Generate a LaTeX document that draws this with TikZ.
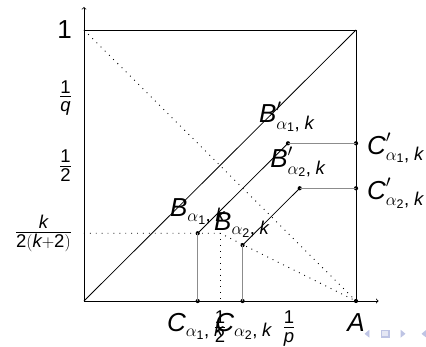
\documentclass[tikz,border=0pt]{standalone}
\usepackage{amsmath}
\usepackage{fontspec}
\setmainfont{Liberation Sans}
\DeclareMathSizes{26}{26}{18.5}{12.5}
\definecolor{navc}{RGB}{190,196,228}
\newcommand{\lab}[3]{$\textit{#1}#2_{\alpha_{\textup{#3}}\textup{,}\mkern5mu\textit{k}}$}
\begin{document}
\begin{tikzpicture}[x=272pt,y=271pt,
  every node/.style={font=\fontsize{26}{30}\selectfont,inner sep=0pt},
  ln/.style={line width=0.8pt,black},
  gl/.style={line width=0.9pt,black!45},
  dt/.style={line width=0.9pt,black,dash pattern=on 0.9pt off 5pt},
  pt/.style={circle,fill=black,minimum size=4.2pt,inner sep=0pt},
  nav/.style={fill=navc,draw=navc,line width=0.6pt}]
\useasboundingbox (-84pt,-45pt) rectangle (342pt,301pt);
% coordinates
\coordinate (O) at (0,0);
\coordinate (X) at (1.083,0);
\coordinate (Y) at (0,1.085);
\coordinate (TL) at (0,1);
\coordinate (TR) at (1,1);
\coordinate (H) at (0,0.25);
\coordinate (M) at (0.5,0.25);
\coordinate (Mh) at (0.5,0);
% axes and square
\draw[ln,->] (O) -- (X);
\draw[ln,->] (O) -- (Y);
\draw[ln] (TL) -- (TR) -- (1,0);
\draw[ln] (O) -- (TR);
% dotted
\draw[dt] (TL) -- (1,0);
\draw[dt] (H) -- (M) -- (1,0);
\draw[dt] (M) -- (Mh);
% points
\node[pt] (B1) at (0.418,0.25) {};
\node[pt] (B1p) at (0.75,0.582) {};
\node[pt] (B2) at (0.583,0.206) {};
\node[pt] (B2p) at (0.793,0.416) {};
\node[pt] (C1) at (0.418,0) {};
\node[pt] (C2) at (0.583,0) {};
\node[pt] (C1p) at (1,0.582) {};
\node[pt] (C2p) at (1,0.416) {};
\node[pt] (A) at (1,0) {};
\draw[ln] (B1.center) -- (B1p.center);
\draw[ln] (B2.center) -- (B2p.center);
\draw[gl] (B1.center) -- (C1.center);
\draw[gl] (B2.center) -- (C2.center);
\draw[gl] (B1p.center) -- (C1p.center);
\draw[gl] (B2p.center) -- (C2p.center);
% y labels
\node[anchor=east] (l1) at (-0.044,1) {1};
\node[anchor=east] (lq) at (-0.044,0.75) {$\frac{\textup{1}}{\textit{q}}$};
\node[anchor=east] (lh) at (-0.044,0.5) {$\frac{\textup{1}}{\textup{2}}$};
\node[anchor=east] (lk) at (-0.044,0.25) {$\frac{\textit{k}}{\textup{2}(\textit{k}+\textup{2})}$};
% x labels
\node[anchor=north] (xh) at (0.5,-0.036) {$\frac{\textup{1}}{\textup{2}}$};
\node[anchor=north] (xp) at (0.754,-0.036) {$\frac{\textup{1}}{\textit{p}}$};
\node[anchor=base] (lA) at (1,-0.111) {\textit{A}};
\node[anchor=base west] (lC1) at (0.305,-0.114) {\lab{C}{}{1}};
\node[anchor=base west] (lC2) at (0.482,-0.114) {\lab{C}{}{2}};
% B labels
\node[anchor=base west] (lB1p) at (0.643,0.657) {\lab{B}{'}{1}};
\node[anchor=base west] (lB2p) at (0.684,0.491) {\lab{B}{'}{2}};
\node[anchor=base west] (lB1) at (0.316,0.310) {\lab{B}{}{1}};
\node[anchor=base west] (lB2) at (0.478,0.262) {\lab{B}{}{2}};
% C' labels
\node[anchor=base west] (lC1p) at (1.040,0.542) {\lab{C}{'}{1}};
\node[anchor=base west] (lC2p) at (1.040,0.376) {\lab{C}{'}{2}};
% navigation symbols
\fill[nav] (285pt,-29.5pt) -- (285pt,-36pt) -- (281pt,-32.75pt) -- cycle;
\draw[draw=navc,line width=1.2pt,fill=navc!40] (297.5pt,-29.5pt) rectangle (305pt,-36pt);
\fill[nav] (317pt,-29.5pt) -- (317pt,-36pt) -- (321pt,-32.75pt) -- cycle;
\fill[nav] (342pt,-29.5pt) -- (342pt,-36pt) -- (338pt,-32.75pt) -- cycle;
\end{tikzpicture}
\end{document}
